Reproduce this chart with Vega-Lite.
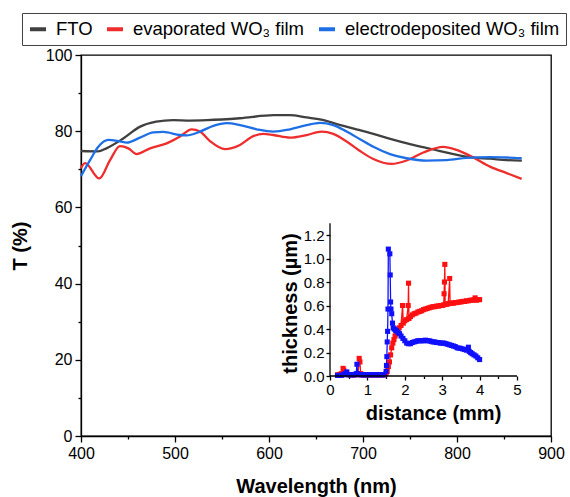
{
  "$schema": "https://vega.github.io/schema/vega-lite/v6.json",
  "width": 470,
  "height": 381,
  "autosize": {"type": "none"},
  "padding": {"left": 81, "top": 55, "right": 19, "bottom": 61},
  "background": "white",
  "config": {
    "view": {"stroke": "black", "strokeWidth": 1.3},
    "axis": {
      "grid": false,
      "labelFlush": false,
      "labelOverlap": false,
      "labelFont": "Liberation Sans",
      "titleFont": "Liberation Sans",
      "labelColor": "black",
      "titleColor": "black",
      "domainColor": "black",
      "tickColor": "black",
      "domainWidth": 1.3,
      "tickWidth": 1.3
    }
  },
  "datasets": {
    "main": [
      {"wavelength": 400, "T": 74.8, "sample": "FTO"},
      {"wavelength": 418, "T": 74.7, "sample": "FTO"},
      {"wavelength": 427, "T": 75.5, "sample": "FTO"},
      {"wavelength": 445, "T": 78.1, "sample": "FTO"},
      {"wavelength": 463, "T": 81.2, "sample": "FTO"},
      {"wavelength": 480, "T": 82.5, "sample": "FTO"},
      {"wavelength": 498, "T": 82.9, "sample": "FTO"},
      {"wavelength": 516, "T": 82.8, "sample": "FTO"},
      {"wavelength": 534, "T": 82.9, "sample": "FTO"},
      {"wavelength": 569, "T": 83.4, "sample": "FTO"},
      {"wavelength": 605, "T": 84.2, "sample": "FTO"},
      {"wavelength": 622, "T": 84.2, "sample": "FTO"},
      {"wavelength": 640, "T": 83.6, "sample": "FTO"},
      {"wavelength": 658, "T": 82.9, "sample": "FTO"},
      {"wavelength": 676, "T": 81.6, "sample": "FTO"},
      {"wavelength": 693, "T": 80.5, "sample": "FTO"},
      {"wavelength": 711, "T": 79.3, "sample": "FTO"},
      {"wavelength": 729, "T": 78.0, "sample": "FTO"},
      {"wavelength": 747, "T": 76.8, "sample": "FTO"},
      {"wavelength": 764, "T": 75.8, "sample": "FTO"},
      {"wavelength": 782, "T": 74.8, "sample": "FTO"},
      {"wavelength": 800, "T": 73.8, "sample": "FTO"},
      {"wavelength": 817, "T": 73.1, "sample": "FTO"},
      {"wavelength": 835, "T": 72.8, "sample": "FTO"},
      {"wavelength": 853, "T": 72.4, "sample": "FTO"},
      {"wavelength": 869, "T": 72.3, "sample": "FTO"},

      {"wavelength": 400, "T": 70.3, "sample": "evaporated WO₃ film"},
      {"wavelength": 404.3, "T": 71.6, "sample": "evaporated WO₃ film"},
      {"wavelength": 419.5, "T": 67.6, "sample": "evaporated WO₃ film"},
      {"wavelength": 430.9, "T": 72.4, "sample": "evaporated WO₃ film"},
      {"wavelength": 441.5, "T": 76.1, "sample": "evaporated WO₃ film"},
      {"wavelength": 450.4, "T": 75.5, "sample": "evaporated WO₃ film"},
      {"wavelength": 459.2, "T": 74.0, "sample": "evaporated WO₃ film"},
      {"wavelength": 473.4, "T": 75.5, "sample": "evaporated WO₃ film"},
      {"wavelength": 491.1, "T": 76.8, "sample": "evaporated WO₃ film"},
      {"wavelength": 505.3, "T": 78.6, "sample": "evaporated WO₃ film"},
      {"wavelength": 517.7, "T": 80.5, "sample": "evaporated WO₃ film"},
      {"wavelength": 526.6, "T": 79.9, "sample": "evaporated WO₃ film"},
      {"wavelength": 537.2, "T": 77.4, "sample": "evaporated WO₃ film"},
      {"wavelength": 553.2, "T": 75.3, "sample": "evaporated WO₃ film"},
      {"wavelength": 569.1, "T": 76.4, "sample": "evaporated WO₃ film"},
      {"wavelength": 583.3, "T": 78.7, "sample": "evaporated WO₃ film"},
      {"wavelength": 594, "T": 79.3, "sample": "evaporated WO₃ film"},
      {"wavelength": 604.6, "T": 79.0, "sample": "evaporated WO₃ film"},
      {"wavelength": 622.3, "T": 78.3, "sample": "evaporated WO₃ film"},
      {"wavelength": 640.1, "T": 79.0, "sample": "evaporated WO₃ film"},
      {"wavelength": 656, "T": 79.9, "sample": "evaporated WO₃ film"},
      {"wavelength": 668.4, "T": 79.3, "sample": "evaporated WO₃ film"},
      {"wavelength": 682.6, "T": 77.3, "sample": "evaporated WO₃ film"},
      {"wavelength": 696.8, "T": 74.8, "sample": "evaporated WO₃ film"},
      {"wavelength": 711, "T": 72.7, "sample": "evaporated WO₃ film"},
      {"wavelength": 730.5, "T": 71.4, "sample": "evaporated WO₃ film"},
      {"wavelength": 746.4, "T": 72.3, "sample": "evaporated WO₃ film"},
      {"wavelength": 764.2, "T": 74.4, "sample": "evaporated WO₃ film"},
      {"wavelength": 785.4, "T": 75.9, "sample": "evaporated WO₃ film"},
      {"wavelength": 799.6, "T": 75.1, "sample": "evaporated WO₃ film"},
      {"wavelength": 817.4, "T": 73.1, "sample": "evaporated WO₃ film"},
      {"wavelength": 835.1, "T": 70.7, "sample": "evaporated WO₃ film"},
      {"wavelength": 852.8, "T": 69.0, "sample": "evaporated WO₃ film"},
      {"wavelength": 868.8, "T": 67.5, "sample": "evaporated WO₃ film"},

      {"wavelength": 400, "T": 68.2, "sample": "electrodeposited WO₃ film"},
      {"wavelength": 409.6, "T": 72.4, "sample": "electrodeposited WO₃ film"},
      {"wavelength": 418.4, "T": 75.9, "sample": "electrodeposited WO₃ film"},
      {"wavelength": 429.1, "T": 77.7, "sample": "electrodeposited WO₃ film"},
      {"wavelength": 441.5, "T": 77.3, "sample": "electrodeposited WO₃ film"},
      {"wavelength": 448.6, "T": 77.0, "sample": "electrodeposited WO₃ film"},
      {"wavelength": 462.8, "T": 78.3, "sample": "electrodeposited WO₃ film"},
      {"wavelength": 477, "T": 79.7, "sample": "electrodeposited WO₃ film"},
      {"wavelength": 487.6, "T": 79.8, "sample": "electrodeposited WO₃ film"},
      {"wavelength": 505.3, "T": 79.0, "sample": "electrodeposited WO₃ film"},
      {"wavelength": 512.4, "T": 78.9, "sample": "electrodeposited WO₃ film"},
      {"wavelength": 526.6, "T": 79.9, "sample": "electrodeposited WO₃ film"},
      {"wavelength": 540.8, "T": 81.4, "sample": "electrodeposited WO₃ film"},
      {"wavelength": 555, "T": 82.1, "sample": "electrodeposited WO₃ film"},
      {"wavelength": 569.1, "T": 81.6, "sample": "electrodeposited WO₃ film"},
      {"wavelength": 586.9, "T": 80.5, "sample": "electrodeposited WO₃ film"},
      {"wavelength": 604.6, "T": 79.9, "sample": "electrodeposited WO₃ film"},
      {"wavelength": 622.3, "T": 80.5, "sample": "electrodeposited WO₃ film"},
      {"wavelength": 640.1, "T": 81.6, "sample": "electrodeposited WO₃ film"},
      {"wavelength": 654.3, "T": 82.2, "sample": "electrodeposited WO₃ film"},
      {"wavelength": 668.4, "T": 81.6, "sample": "electrodeposited WO₃ film"},
      {"wavelength": 682.6, "T": 79.9, "sample": "electrodeposited WO₃ film"},
      {"wavelength": 696.8, "T": 77.9, "sample": "electrodeposited WO₃ film"},
      {"wavelength": 711, "T": 75.9, "sample": "electrodeposited WO₃ film"},
      {"wavelength": 728.7, "T": 74.0, "sample": "electrodeposited WO₃ film"},
      {"wavelength": 746.4, "T": 72.9, "sample": "electrodeposited WO₃ film"},
      {"wavelength": 767.7, "T": 72.3, "sample": "electrodeposited WO₃ film"},
      {"wavelength": 789, "T": 72.4, "sample": "electrodeposited WO₃ film"},
      {"wavelength": 810.3, "T": 73.0, "sample": "electrodeposited WO₃ film"},
      {"wavelength": 835.1, "T": 73.2, "sample": "electrodeposited WO₃ film"},
      {"wavelength": 852.8, "T": 73.1, "sample": "electrodeposited WO₃ film"},
      {"wavelength": 868.8, "T": 72.9, "sample": "electrodeposited WO₃ film"}
    ],
    "inset": [
      {"d": 0.20, "t": 0.01, "film": "evaporated"},
      {"d": 0.25, "t": 0.01, "film": "evaporated"},
      {"d": 0.30, "t": 0.02, "film": "evaporated"},
      {"d": 0.35, "t": 0.065, "film": "evaporated"},
      {"d": 0.37, "t": 0.05, "film": "evaporated"},
      {"d": 0.40, "t": 0.02, "film": "evaporated"},
      {"d": 0.45, "t": 0.015, "film": "evaporated"},
      {"d": 0.50, "t": 0.01, "film": "evaporated"},
      {"d": 0.55, "t": 0.01, "film": "evaporated"},
      {"d": 0.60, "t": 0.01, "film": "evaporated"},
      {"d": 0.65, "t": 0.01, "film": "evaporated"},
      {"d": 0.70, "t": 0.01, "film": "evaporated"},
      {"d": 0.75, "t": 0.02, "film": "evaporated"},
      {"d": 0.78, "t": 0.15, "film": "evaporated"},
      {"d": 0.80, "t": 0.12, "film": "evaporated"},
      {"d": 0.82, "t": 0.02, "film": "evaporated"},
      {"d": 0.85, "t": 0.01, "film": "evaporated"},
      {"d": 0.90, "t": 0.01, "film": "evaporated"},
      {"d": 0.95, "t": 0.01, "film": "evaporated"},
      {"d": 1.00, "t": 0.01, "film": "evaporated"},
      {"d": 1.05, "t": 0.01, "film": "evaporated"},
      {"d": 1.10, "t": 0.01, "film": "evaporated"},
      {"d": 1.15, "t": 0.01, "film": "evaporated"},
      {"d": 1.20, "t": 0.01, "film": "evaporated"},
      {"d": 1.25, "t": 0.01, "film": "evaporated"},
      {"d": 1.30, "t": 0.01, "film": "evaporated"},
      {"d": 1.35, "t": 0.01, "film": "evaporated"},
      {"d": 1.40, "t": 0.01, "film": "evaporated"},
      {"d": 1.45, "t": 0.01, "film": "evaporated"},
      {"d": 1.50, "t": 0.02, "film": "evaporated"},
      {"d": 1.53, "t": 0.04, "film": "evaporated"},
      {"d": 1.56, "t": 0.08, "film": "evaporated"},
      {"d": 1.59, "t": 0.12, "film": "evaporated"},
      {"d": 1.62, "t": 0.18, "film": "evaporated"},
      {"d": 1.65, "t": 0.24, "film": "evaporated"},
      {"d": 1.68, "t": 0.28, "film": "evaporated"},
      {"d": 1.71, "t": 0.31, "film": "evaporated"},
      {"d": 1.74, "t": 0.34, "film": "evaporated"},
      {"d": 1.77, "t": 0.36, "film": "evaporated"},
      {"d": 1.80, "t": 0.38, "film": "evaporated"},
      {"d": 1.85, "t": 0.41, "film": "evaporated"},
      {"d": 1.90, "t": 0.43, "film": "evaporated"},
      {"d": 1.94, "t": 0.60, "film": "evaporated"},
      {"d": 1.96, "t": 0.45, "film": "evaporated"},
      {"d": 2.00, "t": 0.47, "film": "evaporated"},
      {"d": 2.05, "t": 0.48, "film": "evaporated"},
      {"d": 2.09, "t": 0.60, "film": "evaporated"},
      {"d": 2.10, "t": 0.79, "film": "evaporated"},
      {"d": 2.11, "t": 0.49, "film": "evaporated"},
      {"d": 2.15, "t": 0.505, "film": "evaporated"},
      {"d": 2.20, "t": 0.52, "film": "evaporated"},
      {"d": 2.25, "t": 0.53, "film": "evaporated"},
      {"d": 2.30, "t": 0.535, "film": "evaporated"},
      {"d": 2.35, "t": 0.545, "film": "evaporated"},
      {"d": 2.40, "t": 0.55, "film": "evaporated"},
      {"d": 2.45, "t": 0.555, "film": "evaporated"},
      {"d": 2.50, "t": 0.565, "film": "evaporated"},
      {"d": 2.55, "t": 0.57, "film": "evaporated"},
      {"d": 2.60, "t": 0.575, "film": "evaporated"},
      {"d": 2.65, "t": 0.58, "film": "evaporated"},
      {"d": 2.70, "t": 0.585, "film": "evaporated"},
      {"d": 2.75, "t": 0.59, "film": "evaporated"},
      {"d": 2.80, "t": 0.59, "film": "evaporated"},
      {"d": 2.85, "t": 0.595, "film": "evaporated"},
      {"d": 2.90, "t": 0.595, "film": "evaporated"},
      {"d": 2.95, "t": 0.60, "film": "evaporated"},
      {"d": 3.00, "t": 0.60, "film": "evaporated"},
      {"d": 3.04, "t": 0.605, "film": "evaporated"},
      {"d": 3.05, "t": 0.70, "film": "evaporated"},
      {"d": 3.06, "t": 0.80, "film": "evaporated"},
      {"d": 3.07, "t": 0.95, "film": "evaporated"},
      {"d": 3.08, "t": 0.61, "film": "evaporated"},
      {"d": 3.12, "t": 0.61, "film": "evaporated"},
      {"d": 3.16, "t": 0.615, "film": "evaporated"},
      {"d": 3.20, "t": 0.83, "film": "evaporated"},
      {"d": 3.21, "t": 0.62, "film": "evaporated"},
      {"d": 3.25, "t": 0.62, "film": "evaporated"},
      {"d": 3.30, "t": 0.62, "film": "evaporated"},
      {"d": 3.35, "t": 0.625, "film": "evaporated"},
      {"d": 3.40, "t": 0.625, "film": "evaporated"},
      {"d": 3.45, "t": 0.63, "film": "evaporated"},
      {"d": 3.50, "t": 0.63, "film": "evaporated"},
      {"d": 3.55, "t": 0.635, "film": "evaporated"},
      {"d": 3.60, "t": 0.635, "film": "evaporated"},
      {"d": 3.65, "t": 0.64, "film": "evaporated"},
      {"d": 3.70, "t": 0.64, "film": "evaporated"},
      {"d": 3.75, "t": 0.645, "film": "evaporated"},
      {"d": 3.80, "t": 0.645, "film": "evaporated"},
      {"d": 3.85, "t": 0.65, "film": "evaporated"},
      {"d": 3.88, "t": 0.665, "film": "evaporated"},
      {"d": 3.91, "t": 0.645, "film": "evaporated"},
      {"d": 3.95, "t": 0.65, "film": "evaporated"},
      {"d": 4.00, "t": 0.65, "film": "evaporated"},

      {"d": 0.20, "t": 0.005, "film": "electrodeposited"},
      {"d": 0.25, "t": 0.005, "film": "electrodeposited"},
      {"d": 0.30, "t": 0.005, "film": "electrodeposited"},
      {"d": 0.35, "t": 0.01, "film": "electrodeposited"},
      {"d": 0.40, "t": 0.02, "film": "electrodeposited"},
      {"d": 0.45, "t": 0.035, "film": "electrodeposited"},
      {"d": 0.50, "t": 0.01, "film": "electrodeposited"},
      {"d": 0.55, "t": 0.01, "film": "electrodeposited"},
      {"d": 0.60, "t": 0.01, "film": "electrodeposited"},
      {"d": 0.65, "t": 0.01, "film": "electrodeposited"},
      {"d": 0.70, "t": 0.02, "film": "electrodeposited"},
      {"d": 0.72, "t": 0.10, "film": "electrodeposited"},
      {"d": 0.74, "t": 0.02, "film": "electrodeposited"},
      {"d": 0.80, "t": 0.01, "film": "electrodeposited"},
      {"d": 0.85, "t": 0.01, "film": "electrodeposited"},
      {"d": 0.90, "t": 0.01, "film": "electrodeposited"},
      {"d": 0.95, "t": 0.01, "film": "electrodeposited"},
      {"d": 1.00, "t": 0.01, "film": "electrodeposited"},
      {"d": 1.05, "t": 0.01, "film": "electrodeposited"},
      {"d": 1.10, "t": 0.01, "film": "electrodeposited"},
      {"d": 1.15, "t": 0.01, "film": "electrodeposited"},
      {"d": 1.20, "t": 0.01, "film": "electrodeposited"},
      {"d": 1.25, "t": 0.01, "film": "electrodeposited"},
      {"d": 1.30, "t": 0.01, "film": "electrodeposited"},
      {"d": 1.35, "t": 0.01, "film": "electrodeposited"},
      {"d": 1.40, "t": 0.01, "film": "electrodeposited"},
      {"d": 1.45, "t": 0.01, "film": "electrodeposited"},
      {"d": 1.50, "t": 0.04, "film": "electrodeposited"},
      {"d": 1.51, "t": 0.09, "film": "electrodeposited"},
      {"d": 1.52, "t": 0.165, "film": "electrodeposited"},
      {"d": 1.53, "t": 0.29, "film": "electrodeposited"},
      {"d": 1.54, "t": 0.38, "film": "electrodeposited"},
      {"d": 1.55, "t": 0.57, "film": "electrodeposited"},
      {"d": 1.56, "t": 1.08, "film": "electrodeposited"},
      {"d": 1.60, "t": 1.04, "film": "electrodeposited"},
      {"d": 1.61, "t": 0.86, "film": "electrodeposited"},
      {"d": 1.62, "t": 0.63, "film": "electrodeposited"},
      {"d": 1.63, "t": 0.57, "film": "electrodeposited"},
      {"d": 1.65, "t": 0.53, "film": "electrodeposited"},
      {"d": 1.67, "t": 0.45, "film": "electrodeposited"},
      {"d": 1.69, "t": 0.41, "film": "electrodeposited"},
      {"d": 1.72, "t": 0.40, "film": "electrodeposited"},
      {"d": 1.75, "t": 0.39, "film": "electrodeposited"},
      {"d": 1.78, "t": 0.385, "film": "electrodeposited"},
      {"d": 1.82, "t": 0.37, "film": "electrodeposited"},
      {"d": 1.86, "t": 0.36, "film": "electrodeposited"},
      {"d": 1.90, "t": 0.34, "film": "electrodeposited"},
      {"d": 1.95, "t": 0.32, "film": "electrodeposited"},
      {"d": 2.00, "t": 0.30, "film": "electrodeposited"},
      {"d": 2.05, "t": 0.28, "film": "electrodeposited"},
      {"d": 2.10, "t": 0.275, "film": "electrodeposited"},
      {"d": 2.15, "t": 0.275, "film": "electrodeposited"},
      {"d": 2.20, "t": 0.285, "film": "electrodeposited"},
      {"d": 2.25, "t": 0.29, "film": "electrodeposited"},
      {"d": 2.30, "t": 0.295, "film": "electrodeposited"},
      {"d": 2.35, "t": 0.30, "film": "electrodeposited"},
      {"d": 2.40, "t": 0.30, "film": "electrodeposited"},
      {"d": 2.45, "t": 0.30, "film": "electrodeposited"},
      {"d": 2.50, "t": 0.30, "film": "electrodeposited"},
      {"d": 2.55, "t": 0.305, "film": "electrodeposited"},
      {"d": 2.60, "t": 0.30, "film": "electrodeposited"},
      {"d": 2.65, "t": 0.30, "film": "electrodeposited"},
      {"d": 2.70, "t": 0.295, "film": "electrodeposited"},
      {"d": 2.75, "t": 0.29, "film": "electrodeposited"},
      {"d": 2.80, "t": 0.29, "film": "electrodeposited"},
      {"d": 2.85, "t": 0.285, "film": "electrodeposited"},
      {"d": 2.90, "t": 0.285, "film": "electrodeposited"},
      {"d": 2.95, "t": 0.28, "film": "electrodeposited"},
      {"d": 3.00, "t": 0.28, "film": "electrodeposited"},
      {"d": 3.05, "t": 0.28, "film": "electrodeposited"},
      {"d": 3.10, "t": 0.275, "film": "electrodeposited"},
      {"d": 3.15, "t": 0.27, "film": "electrodeposited"},
      {"d": 3.20, "t": 0.265, "film": "electrodeposited"},
      {"d": 3.25, "t": 0.26, "film": "electrodeposited"},
      {"d": 3.30, "t": 0.255, "film": "electrodeposited"},
      {"d": 3.35, "t": 0.25, "film": "electrodeposited"},
      {"d": 3.40, "t": 0.24, "film": "electrodeposited"},
      {"d": 3.45, "t": 0.237, "film": "electrodeposited"},
      {"d": 3.50, "t": 0.235, "film": "electrodeposited"},
      {"d": 3.55, "t": 0.23, "film": "electrodeposited"},
      {"d": 3.60, "t": 0.225, "film": "electrodeposited"},
      {"d": 3.65, "t": 0.22, "film": "electrodeposited"},
      {"d": 3.70, "t": 0.245, "film": "electrodeposited"},
      {"d": 3.72, "t": 0.21, "film": "electrodeposited"},
      {"d": 3.76, "t": 0.20, "film": "electrodeposited"},
      {"d": 3.80, "t": 0.19, "film": "electrodeposited"},
      {"d": 3.85, "t": 0.18, "film": "electrodeposited"},
      {"d": 3.90, "t": 0.17, "film": "electrodeposited"},
      {"d": 3.95, "t": 0.155, "film": "electrodeposited"},
      {"d": 4.00, "t": 0.14, "film": "electrodeposited"}
    ]
  },
  "layer": [
    {
      "data": {"name": "main"},
      "mark": {"type": "line", "strokeWidth": 2.3, "interpolate": "monotone"},
      "encoding": {
        "x": {
          "field": "wavelength",
          "type": "quantitative",
          "scale": {"domain": [400, 900], "nice": false, "zero": false},
          "axis": {
            "title": "Wavelength (nm)",
            "orient": "bottom",
            "values": [400, 450, 500, 550, 600, 650, 700, 750, 800, 850, 900],
            "labelExpr": "datum.value % 100 === 0 ? datum.label : ''",
            "tickSize": {"condition": {"test": "datum.value % 100 === 0", "value": 6}, "value": 3},
            "labelFontSize": 16,
            "labelPadding": 3,
            "titleFontSize": 20,
            "titleFontWeight": "bold",
            "titlePadding": 15
          }
        },
        "y": {
          "field": "T",
          "type": "quantitative",
          "scale": {"domain": [0, 100], "nice": false},
          "axis": {
            "title": "T (%)",
            "orient": "left",
            "values": [0, 10, 20, 30, 40, 50, 60, 70, 80, 90, 100],
            "labelExpr": "datum.value % 20 === 0 ? datum.label : ''",
            "tickSize": {"condition": {"test": "datum.value % 20 === 0", "value": 6}, "value": 3},
            "labelFontSize": 16,
            "labelPadding": 3,
            "titleFontSize": 20,
            "titleFontWeight": "bold",
            "titlePadding": 15
          }
        },
        "color": {
          "field": "sample",
          "type": "nominal",
          "scale": {
            "domain": ["FTO", "evaporated WO₃ film", "electrodeposited WO₃ film"],
            "range": ["#404040", "#ee2d2d", "#1e6fe6"]
          },
          "legend": {
            "title": null,
            "orient": "none",
            "legendX": -59,
            "legendY": -42,
            "direction": "horizontal",
            "symbolType": "stroke",
            "symbolStrokeWidth": 4,
            "symbolSize": 256,
            "labelFontSize": 18.5,
            "labelFont": "Liberation Sans",
            "labelColor": "black",
            "labelLimit": 0,
            "labelOffset": 8,
            "columnPadding": 6,
            "strokeColor": "#444444",
            "fillColor": "white",
            "padding": 6
          }
        }
      }
    },
    {
      "data": {"name": "inset"},
      "layer": [
        {
          "mark": {"type": "line", "strokeWidth": 1.3, "point": {"shape": "square", "size": 26, "filled": true}},
          "encoding": {
            "x": {
              "field": "d",
              "type": "quantitative",
              "scale": {"domain": [-6.658, 5.909], "nice": false, "zero": false},
              "axis": {
                "title": "distance (mm)",
                "orient": "bottom",
                "offset": -60,
                "domain": false,
                "values": [0, 0.5, 1, 1.5, 2, 2.5, 3, 3.5, 4, 4.5, 5],
                "labelExpr": "datum.value % 1 === 0 ? datum.label : ''",
                "tickSize": {"condition": {"test": "datum.value % 1 === 0", "value": 4}, "value": 2.5},
                "labelFontSize": 15,
                "labelPadding": 2,
                "titleFontSize": 20,
                "titleFontWeight": "bold",
                "titleX": 352,
                "titlePadding": 6
              }
            },
            "y": {
              "field": "t",
              "type": "quantitative",
              "scale": {"domain": [-0.5106, 2.732], "nice": false, "zero": false},
              "axis": {
                "title": "thickness (µm)",
                "orient": "left",
                "offset": -249,
                "domain": false,
                "values": [0, 0.2, 0.4, 0.6, 0.8, 1.0, 1.2],
                "format": ".1f",
                "tickSize": 4,
                "labelFontSize": 15,
                "labelPadding": 2,
                "titleFontSize": 20,
                "titleFontWeight": "bold",
                "titleY": 248,
                "titlePadding": 3
              }
            },
            "color": {
              "field": "film",
              "type": "nominal",
              "scale": {"domain": ["evaporated", "electrodeposited"], "range": ["#ff1010", "#1010ff"]},
              "legend": null
            }
          }
        },
        {
          "data": {"values": [{}]},
          "mark": {"type": "rule", "color": "black", "strokeWidth": 1.3},
          "encoding": {
            "x": {"datum": 0, "type": "quantitative"},
            "x2": {"datum": 5},
            "y": {"datum": 0, "type": "quantitative"}
          }
        },
        {
          "data": {"values": [{}]},
          "mark": {"type": "rule", "color": "black", "strokeWidth": 1.3},
          "encoding": {
            "x": {"datum": 0, "type": "quantitative"},
            "y": {"datum": 0, "type": "quantitative"},
            "y2": {"datum": 1.3}
          }
        }
      ]
    }
  ],
  "resolve": {
    "scale": {"x": "independent", "y": "independent", "color": "independent"},
    "axis": {"x": "independent", "y": "independent"},
    "legend": {"color": "independent"}
  }
}
